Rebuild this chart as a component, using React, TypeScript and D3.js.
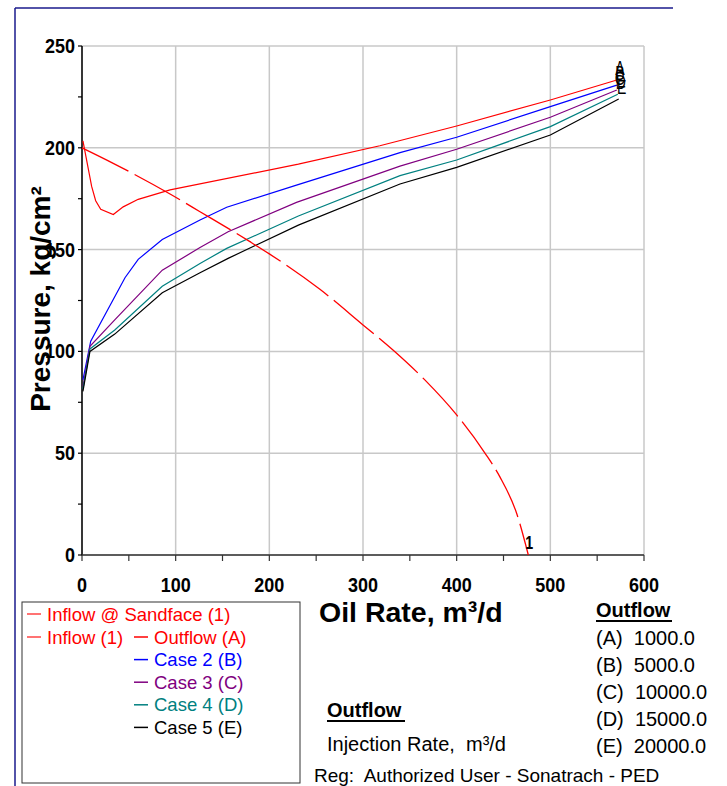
import React from "react";
import * as d3 from "d3";

// ---- Data ----
const xTicks = [0, 100, 200, 300, 400, 500, 600];
const yTicks = [0, 50, 100, 150, 200, 250];

const inflowX = [0, 26, 94, 126, 179.3, 200, 254, 300, 332, 366, 400, 430, 446, 464, 476.5];
const inflowY = [200, 194.1, 177.3, 168.6, 153.9, 147.9, 130.5, 113, 100.7, 86, 68.8, 50.2, 38.5, 20.5, 0];

const outAX = [1, 10.3, 14.6, 20, 33.4, 44, 60, 94, 231, 318, 400, 500, 571];
const outAY = [203.4, 181, 174, 169.8, 167.2, 171, 174.7, 179.3, 192, 201, 210.7, 223.5, 233.3];

const outBX = [1, 9.3, 45.9, 60, 85.7, 126, 154.5, 229, 339.5, 400, 500, 571];
const outBY = [86, 105, 136.2, 145.2, 155, 164.5, 170.8, 181.7, 197.6, 205.2, 220.2, 230.8];

const outCX = [1, 8.5, 35.2, 85.7, 126, 156, 229, 339.5, 400, 500, 571];
const outCY = [82.8, 102.5, 115.6, 139.9, 151, 158.8, 173.2, 191, 199.3, 215, 228.4];

const outDX = [1, 8.5, 35, 85.7, 126, 154.5, 231, 339.5, 400, 500, 572];
const outDY = [81.5, 101.2, 110.5, 132, 143.2, 150.6, 166.5, 186.3, 194, 210.4, 226.3];

const outEX = [1, 8.5, 35, 85.7, 126, 156, 231, 339.5, 400, 500, 573];
const outEY = [80.4, 100, 108.5, 128.8, 138.6, 145.7, 162, 182.2, 190.4, 206.3, 224];

const seriesLetters = ["A", "B", "C", "D", "E"];
const seriesColors = ["#ff0000", "#0000ff", "#800080", "#008080", "#000000"];
const legendCaseLabels = ["Outflow (A)", "Case 2 (B)", "Case 3 (C)", "Case 4 (D)", "Case 5 (E)"];
const outflowValues = ["1000.0", "5000.0", "10000.0", "15000.0", "20000.0"];

const FONT = "'Liberation Sans', Arial, Helvetica, sans-serif";

export default function App() {
  const x = d3.scaleLinear().domain([0, 600]).range([82, 644]);
  const y = d3.scaleLinear().domain([0, 250]).range([555, 46]);

  const toPts = (xs: number[], ys: number[]) => xs.map((v, i) => [v, ys[i]] as [number, number]);
  const lineLin = d3.line<[number, number]>().x((d) => x(d[0])).y((d) => y(d[1]));
  const lineSmooth = d3
    .line<[number, number]>()
    .x((d) => x(d[0]))
    .y((d) => y(d[1]))
    .curve(d3.curveMonotoneX);

  const outflows = [
    toPts(outAX, outAY),
    toPts(outBX, outBY),
    toPts(outCX, outCY),
    toPts(outDX, outDY),
    toPts(outEX, outEY),
  ];
  const inflow = toPts(inflowX, inflowY);

  const xMinor = d3.range(0, 601, 50);
  const yMinor = d3.range(0, 251, 25);

  return (
    <svg
      width={727}
      height={786}
      style={{ position: "absolute", left: 0, top: 0, background: "#fff" }}
      fontFamily={FONT}
    >
      {/* frame lines */}
      <line x1={15} y1={8} x2={673} y2={8} stroke="#1a1a8c" strokeWidth={1.5} />
      <line x1={15} y1={8} x2={15} y2={786} stroke="#1a1a8c" strokeWidth={1.5} />

      {/* grid */}
      {xTicks.map((t) => (
        <line key={"gx" + t} x1={x(t)} x2={x(t)} y1={y(250)} y2={y(0)} stroke="#c8c8c8" strokeWidth={1.5} />
      ))}
      {yTicks.map((t) => (
        <line key={"gy" + t} x1={x(0)} x2={x(600)} y1={y(t)} y2={y(t)} stroke="#c8c8c8" strokeWidth={1.5} />
      ))}

      {/* axes */}
      <line x1={x(0)} x2={x(0)} y1={y(250)} y2={y(0)} stroke="#000" strokeWidth={1.5} />
      <line x1={x(0)} x2={x(600)} y1={y(0)} y2={y(0)} stroke="#333" strokeWidth={1.5} />
      {xMinor.map((t) => (
        <line key={"tx" + t} x1={x(t)} x2={x(t)} y1={y(0)} y2={y(0) + 6} stroke="#333" strokeWidth={1.2} />
      ))}
      {yMinor.map((t) => (
        <line key={"ty" + t} x1={x(0) - 4} x2={x(0)} y1={y(t)} y2={y(t)} stroke="#000" strokeWidth={1.2} />
      ))}
      {xTicks.map((t) => (
        <text
          key={"lx" + t}
          transform={`translate(${x(t)},592) scale(1,1.1)`}
          textAnchor="middle"
          fontSize={18}
          fontWeight="bold"
        >
          {t}
        </text>
      ))}
      {yTicks.map((t) => (
        <text
          key={"ly" + t}
          transform={`translate(75,${y(t) + 7}) scale(1,1.1)`}
          textAnchor="end"
          fontSize={18}
          fontWeight="bold"
        >
          {t}
        </text>
      ))}

      {/* axis titles */}
      <text transform="translate(50,299) rotate(-90)" textAnchor="middle" fontSize={28} fontWeight="bold">
        Pressure, kg/cm²
      </text>
      <text x={319} y={622} fontSize={28.5} fontWeight="bold">
        Oil Rate, m³/d
      </text>

      {/* curves */}
      {outflows.map((pts, i) => (
        <path key={"o" + i} d={lineLin(pts) || ""} fill="none" stroke={seriesColors[i]} strokeWidth={1.2} />
      ))}
      <path d={lineSmooth(inflow) || ""} fill="none" stroke="#ff0000" strokeWidth={1.3} strokeDasharray="52 7" />

      {/* end labels */}
      {outflows.map((pts, i) => {
        const p = pts[pts.length - 1];
        return (
          <text
            key={"el" + i}
            transform={`translate(${x(p[0]) + 3},${y(p[1]) - 5}) scale(0.7,1)`}
            textAnchor="middle"
            fontSize={20}
            fill="#000"
          >
            {seriesLetters[i]}
          </text>
        );
      })}
      <text
        transform={`translate(${x(inflow[inflow.length - 1][0]) + 1},${y(0) - 6}) scale(0.75,1)`}
        textAnchor="middle"
        fontSize={19}
        fontWeight="bold"
      >
        1
      </text>

      {/* legend box */}
      <rect x={22} y={602} width={278} height={181} fill="none" stroke="#333" strokeWidth={1} />
      <g fontSize={18.5}>
        <line x1={27} x2={41} y1={614} y2={614} stroke="#ff4444" strokeWidth={1.5} />
        <text x={47} y={620.5} fill="#ff0000">Inflow @ Sandface (1)</text>
        <line x1={27} x2={41} y1={637} y2={637} stroke="#ff4444" strokeWidth={1.5} />
        <text x={47} y={643.5} fill="#ff0000">Inflow (1)</text>
        {legendCaseLabels.map((lab, i) => {
          const cy = 637 + i * 22.6;
          return (
            <g key={"lg" + i}>
              <line x1={134} x2={148} y1={cy} y2={cy} stroke={seriesColors[i]} strokeWidth={1.5} />
              <text x={154} y={cy + 6.5} fill={seriesColors[i]}>
                {lab}
              </text>
            </g>
          );
        })}
      </g>

      {/* outflow lower-left block */}
      <text x={327} y={717} fontSize={20} fontWeight="bold">Outflow</text>
      <line x1={327} x2={405} y1={721} y2={721} stroke="#000" strokeWidth={2} />
      <text x={327} y={751} fontSize={20} style={{ whiteSpace: "pre" }}>
        {"Injection Rate,  m³/d"}
      </text>
      <text x={314} y={782} fontSize={19} style={{ whiteSpace: "pre" }}>
        {"Reg:  Authorized User - Sonatrach - PED"}
      </text>

      {/* outflow right block */}
      <text x={596} y={617} fontSize={20} fontWeight="bold">Outflow</text>
      <line x1={596} x2={672} y1={621} y2={621} stroke="#000" strokeWidth={2} />
      {outflowValues.map((v, i) => (
        <text key={"ov" + i} x={596} y={645 + i * 27} fontSize={20} style={{ whiteSpace: "pre" }}>
          {`(${seriesLetters[i]})  ${v}`}
        </text>
      ))}
    </svg>
  );
}
